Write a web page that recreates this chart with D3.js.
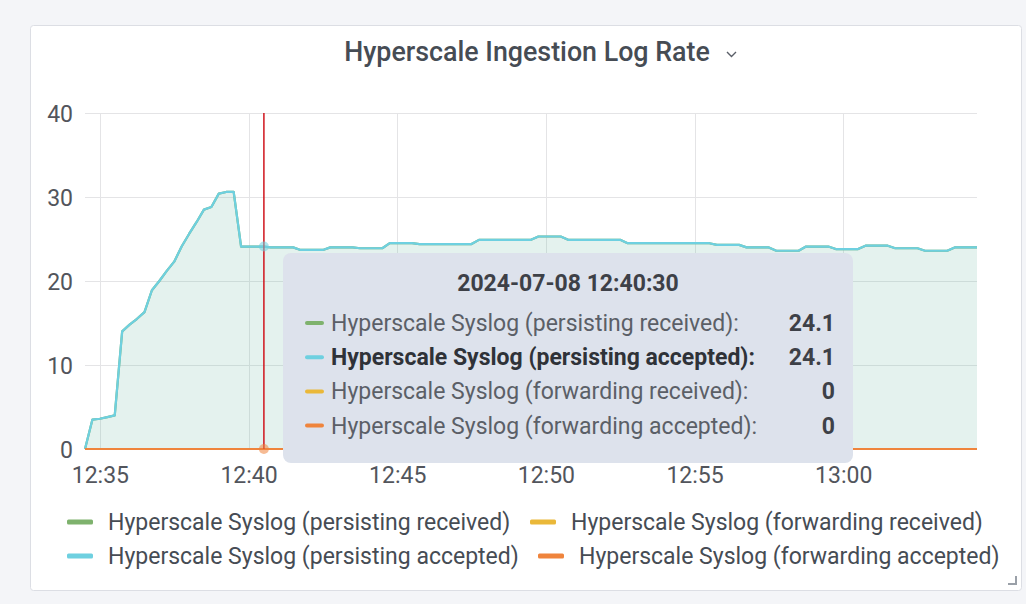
<!DOCTYPE html>
<html>
<head>
<meta charset="utf-8">
<script src="https://cdn.jsdelivr.net/npm/d3@7"></script>
<style>
  html, body { margin: 0; padding: 0; background: #f4f5f8; }
  svg { display: block; font-family: Roboto, "Noto Sans", sans-serif; }
</style>
</head>
<body>
<svg id="chart" width="1026" height="604"></svg>
<script>
// Series names, in legend order (row-wise, two columns)
const seriesNames = [
  "Hyperscale Syslog (persisting received)",
  "Hyperscale Syslog (forwarding received)",
  "Hyperscale Syslog (persisting accepted)",
  "Hyperscale Syslog (forwarding accepted)"
];
const seriesColors = ["#7EB26D", "#EAB839", "#6ED0E0", "#EF843C"];

// Sample timing: one sample every 15 s starting at 12:34:30
const startTime = "2024-07-08T12:34:30";
const stepSeconds = 15;

// Log rate per series (persisting accepted == persisting received)
const persistingAccepted = [
  0, 3.5, 3.6, 3.8, 4.0, 14.0, 14.8, 15.5, 16.3, 18.9,
  20.0, 21.2, 22.3, 24.1, 25.6, 27.0, 28.5, 28.8, 30.4, 30.6,
  30.6, 24.1, 24.1, 24.1, 24.1, 24.0, 24.0, 24.0, 24.0, 23.7,
  23.7, 23.7, 23.7, 24.0, 24.0, 24.0, 24.0, 23.9, 23.9, 23.9,
  23.9, 24.5, 24.5, 24.5, 24.5, 24.4, 24.4, 24.4, 24.4, 24.4,
  24.4, 24.4, 24.4, 24.9, 24.9, 24.9, 24.9, 24.9, 24.9, 24.9,
  24.9, 25.3, 25.3, 25.3, 25.3, 24.9, 24.9, 24.9, 24.9, 24.9,
  24.9, 24.9, 24.9, 24.5, 24.5, 24.5, 24.5, 24.5, 24.5, 24.5,
  24.5, 24.5, 24.5, 24.5, 24.5, 24.3, 24.3, 24.3, 24.3, 24.0,
  24.0, 24.0, 24.0, 23.6, 23.6, 23.6, 23.6, 24.1, 24.1, 24.1,
  24.1, 23.8, 23.8, 23.8, 23.8, 24.2, 24.2, 24.2, 24.2, 23.9,
  23.9, 23.9, 23.9, 23.6, 23.6, 23.6, 23.6, 24.0, 24.0, 24.0,
  24.0
];
const persistingReceived = persistingAccepted.slice();
const forwardingReceived = persistingAccepted.map(() => 0);
const forwardingAccepted = persistingAccepted.map(() => 0);
const seriesValues = [persistingReceived, forwardingReceived, persistingAccepted, forwardingAccepted];

// Axis ticks
const yTicks = [0, 10, 20, 30, 40];
const xTickLabels = ["12:35", "12:40", "12:45", "12:50", "12:55", "13:00"];

// Hover readout
const hoverIndex = 24;
const hoverTitle = "2024-07-08 12:40:30";
const tooltipOrder = [0, 2, 1, 3];
const tooltipValues = ["24.1", "24.1", "0", "0"];
const tooltipHighlighted = 2;

const chartTitle = "Hyperscale Ingestion Log Rate";

// ---------------------------------------------------------------------------
const svg = d3.select("#chart");
const t0 = new Date(startTime);
const times = persistingAccepted.map((_, i) => new Date(t0.getTime() + i * stepSeconds * 1000));

const plot = { left: 85, right: 977, top: 113, bottom: 449 };
const x = d3.scaleTime().domain([times[0], times[times.length - 1]]).range([plot.left, plot.right]);
const y = d3.scaleLinear().domain([0, 40]).range([plot.bottom, plot.top]);

const fs = 23;

// Panel
svg.append("rect").attr("x", 30.5).attr("y", 25.5).attr("width", 991).attr("height", 565)
  .attr("rx", 3).attr("fill", "#fff").attr("stroke", "#dcdee4");

// Title
svg.append("text").attr("x", 527).attr("y", 61).attr("text-anchor", "middle")
  .attr("font-size", 26.8).attr("font-weight", 500).attr("fill", "#464c54").text(chartTitle);
svg.append("path").attr("d", "M727,52 l4.5,4.5 l4.5,-4.5").attr("fill", "none")
  .attr("stroke", "#5a5f68").attr("stroke-width", 1.4);

// Gridlines
const tickTimes = xTickLabels.map(s => new Date("2024-07-08T" + s + ":00"));
const grid = svg.append("g").attr("stroke", "#e4e4e6").attr("stroke-width", 1);
yTicks.forEach(v => grid.append("line").attr("x1", plot.left).attr("x2", plot.right)
  .attr("y1", Math.round(y(v)) + 0.5).attr("y2", Math.round(y(v)) + 0.5));
tickTimes.forEach(tt => grid.append("line").attr("y1", plot.top).attr("y2", plot.bottom)
  .attr("x1", Math.round(x(tt)) + 0.5).attr("x2", Math.round(x(tt)) + 0.5));

// Axes
const yAxis = svg.append("g").attr("transform", `translate(${plot.left - 12},0)`)
  .call(d3.axisLeft(y).tickValues(yTicks).tickSize(0).tickPadding(0));
yAxis.select(".domain").remove();
yAxis.selectAll("text").attr("font-size", fs).attr("fill", "#52555c")
  .attr("font-family", "Roboto, sans-serif").attr("dy", "0.36em");

const xAxis = svg.append("g").attr("transform", `translate(0,${plot.bottom + 18})`)
  .call(d3.axisBottom(x).tickValues(tickTimes).tickFormat((d, i) => xTickLabels[i]).tickSize(0).tickPadding(0));
xAxis.select(".domain").remove();
xAxis.selectAll("text").attr("font-size", fs).attr("fill", "#52555c")
  .attr("font-family", "Roboto, sans-serif").attr("dy", "0.71em");

// Series: fills then lines
const area = d3.area().x((d, i) => x(times[i])).y0(y(0)).y1(d => y(d));
const line = d3.line().x((d, i) => x(times[i])).y(d => y(d));
seriesValues.forEach((vals, s) => {
  svg.append("path").attr("d", area(vals)).attr("fill", seriesColors[s]).attr("fill-opacity", 0.1);
});
seriesValues.forEach((vals, s) => {
  svg.append("path").attr("d", line(vals)).attr("fill", "none")
    .attr("stroke", seriesColors[s]).attr("stroke-width", 2.2).attr("stroke-linejoin", "round");
});

// Hover crosshair and point markers
const hx = x(times[hoverIndex]) + 0.5;
svg.append("line").attr("x1", hx).attr("x2", hx).attr("y1", plot.top).attr("y2", plot.bottom)
  .attr("stroke", "#d0151d").attr("stroke-width", 1.5);
svg.append("circle").attr("cx", hx).attr("cy", y(persistingAccepted[hoverIndex])).attr("r", 5)
  .attr("fill", seriesColors[2]).attr("fill-opacity", 0.55);
svg.append("circle").attr("cx", hx).attr("cy", y(forwardingAccepted[hoverIndex])).attr("r", 5)
  .attr("fill", seriesColors[3]).attr("fill-opacity", 0.55);

// Tooltip
const tip = svg.append("g");
tip.append("rect").attr("x", 283).attr("y", 253).attr("width", 570).attr("height", 210)
  .attr("rx", 8).attr("fill", "#dde2ec");
tip.append("text").attr("x", 568).attr("y", 291).attr("text-anchor", "middle")
  .attr("font-size", fs).attr("font-weight", 700).attr("fill", "#3d4047").text(hoverTitle);
tooltipOrder.forEach((s, r) => {
  const ry = 323 + r * 34.2;
  const bold = s === tooltipHighlighted;
  tip.append("line").attr("x1", 307).attr("x2", 322).attr("y1", ry).attr("y2", ry)
    .attr("stroke", seriesColors[s]).attr("stroke-width", 4).attr("stroke-linecap", "round");
  tip.append("text").attr("x", 331).attr("y", ry + 8).attr("font-size", fs)
    .attr("font-weight", bold ? 700 : 400).attr("fill", bold ? "#2f3238" : "#5b5f67")
    .text(seriesNames[s] + ":");
  tip.append("text").attr("x", 835).attr("y", ry + 8).attr("text-anchor", "end").attr("font-size", fs)
    .attr("font-weight", 700).attr("fill", "#3d4047").text(tooltipValues[r]);
});

// Legend (two columns, row-wise)
const legendCols = [67, 530];
const legendColsRow2 = [67, 538];
const legendRows = [522, 556];
seriesNames.forEach((name, s) => {
  const row = Math.floor(s / 2), col = s % 2;
  const lx = (row === 0 ? legendCols : legendColsRow2)[col];
  const ly = legendRows[row];
  svg.append("rect").attr("x", lx).attr("y", ly - 2.5).attr("width", 26).attr("height", 5)
    .attr("rx", 1.5).attr("fill", seriesColors[s]);
  svg.append("text").attr("x", lx + 41).attr("y", ly + 8).attr("font-size", fs)
    .attr("fill", "#464c54").text(name);
});

// Resize handle
svg.append("path").attr("d", "M1008,584 h8 v-8").attr("fill", "none")
  .attr("stroke", "#9aa0a8").attr("stroke-width", 2);
</script>
</body>
</html>
